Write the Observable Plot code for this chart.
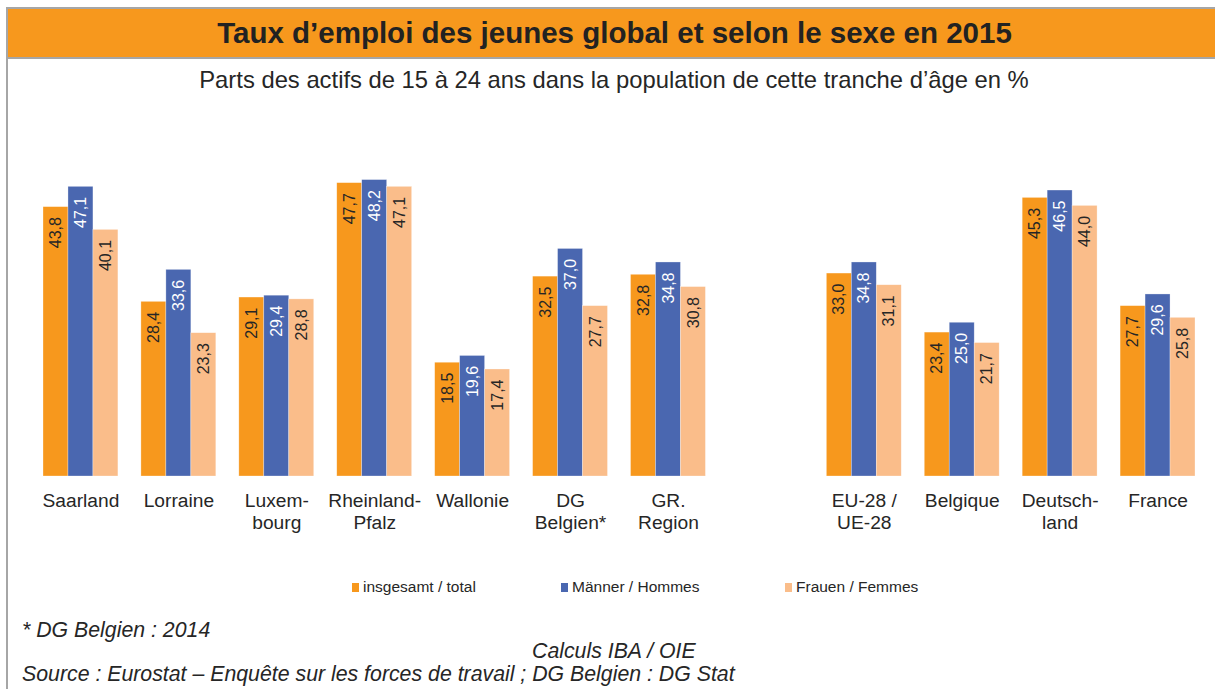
<!DOCTYPE html>
<html>
<head>
<meta charset="utf-8">
<script src="https://cdn.jsdelivr.net/npm/d3@7"></script>
<script src="https://cdn.jsdelivr.net/npm/@observablehq/plot@0.6"></script>
<style>
  html, body { margin: 0; padding: 0; background: #fff; }
  body { width: 1215px; height: 689px; position: relative; overflow: hidden; font-family: "Liberation Sans", Arial, sans-serif; color: #262626; }
  .frame-left { position: absolute; left: 6px; top: 7px; width: 2px; height: 700px; background: #a6a6a6; }
  .banner { position: absolute; left: 6px; top: 7px; width: 1215px; height: 48px; background: #f7981d; border-top: 2px solid #a6a6a6; border-bottom: 2px solid #a6a6a6; }
  .title { position: absolute; left: 0; width: 1229px; top: 18px; text-align: center; font-weight: bold; font-size: 29.5px; line-height: 29.5px; color: #222; white-space: nowrap; }
  .subtitle { position: absolute; left: 0; width: 1228px; top: 68px; text-align: center; font-size: 23.8px; line-height: 23.8px; white-space: nowrap; }
  #chart { position: absolute; left: 0; top: 100px; }
  .legend { position: absolute; top: 578px; font-size: 15.5px; line-height: 18px; white-space: nowrap; }
  .legend span.sw { display: inline-block; width: 7px; height: 9px; margin-right: 4px; vertical-align: 0px; }
  .note { position: absolute; font-style: italic; font-size: 21.3px; line-height: 21px; white-space: nowrap; }
</style>
</head>
<body>
<div class="banner"></div>
<div class="frame-left"></div>
<div class="title">Taux d’emploi des jeunes global et selon le sexe en 2015</div>
<div class="subtitle">Parts des actifs de 15 à 24 ans dans la population de cette tranche d’âge en %</div>
<div id="chart"></div>
<div id="legend"></div>
<div class="note" style="left:22px; top:620px;">* DG Belgien : 2014</div>
<div class="note" style="left:532px; top:641px;">Calculs IBA / OIE</div>
<div class="note" style="left:22px; top:664px;">Source : Eurostat – Enquête sur les forces de travail ; DG Belgien : DG Stat</div>
<script>
// ---- Data ----
const groups = ["Saarland", "Lorraine", "Luxembourg", "Rheinland-Pfalz", "Wallonie", "DG Belgien*", "GR. Region", "_gap", "EU-28 / UE-28", "Belgique", "Deutschland", "France"];
const groupLabels = ["Saarland", "Lorraine", "Luxem-\nbourg", "Rheinland-\nPfalz", "Wallonie", "DG\nBelgien*", "GR.\nRegion", "", "EU-28 /\nUE-28", "Belgique", "Deutsch-\nland", "France"];
const seriesNames = ["insgesamt / total", "Männer / Hommes", "Frauen / Femmes"];
const seriesColors = ["#f7981d", "#4a67b0", "#fabd8a"];
const totalValues = [43.8, 28.4, 29.1, 47.7, 18.5, 32.5, 32.8, null, 33.0, 23.4, 45.3, 27.7];
const menValues   = [47.1, 33.6, 29.4, 48.2, 19.6, 37.0, 34.8, null, 34.8, 25.0, 46.5, 29.6];
const womenValues = [40.1, 23.3, 28.8, 47.1, 17.4, 27.7, 30.8, null, 31.1, 21.7, 44.0, 25.8];

const seriesValues = [totalValues, menValues, womenValues];
const rows = [];
groups.forEach((g, i) => {
  seriesValues.forEach((vals, s) => {
    if (vals[i] != null) rows.push({group: g, series: seriesNames[s], value: vals[i]});
  });
});
const labelOf = new Map(groups.map((g, i) => [g, groupLabels[i]]));
const fmt = v => v.toFixed(1).replace(".", ",");

const chart = Plot.plot({
  width: 1215,
  height: 440,
  marginLeft: 43,
  marginRight: 20,
  marginTop: 68.5,
  marginBottom: 64,
  style: {fontFamily: "Liberation Sans, Arial, sans-serif", color: "#262626", background: "transparent"},
  fx: {domain: groups, paddingInner: 0.235, paddingOuter: 0, round: false, label: null},
  x: {domain: seriesNames, padding: 0, round: false, axis: null},
  y: {domain: [0, 50], axis: null},
  color: {domain: seriesNames, range: seriesColors},
  marks: [
    Plot.barY(rows, {fx: "group", x: "series", y: "value", fill: "series", stroke: "white", strokeWidth: 0.6, strokeOpacity: 0.5}),
    Plot.text(rows.filter(d => d.series !== seriesNames[1]), {
      fx: "group", x: "series", y: "value", text: d => fmt(d.value),
      rotate: -90, textAnchor: "end", lineAnchor: "middle", dy: 10,
      fontSize: 16, fill: "#262626"
    }),
    Plot.text(rows.filter(d => d.series === seriesNames[1]), {
      fx: "group", x: "series", y: "value", text: d => fmt(d.value),
      rotate: -90, textAnchor: "end", lineAnchor: "middle", dy: 10,
      fontSize: 16, fill: "white"
    }),
    Plot.axisFx({anchor: "bottom", tickSize: 0, tickPadding: 15, fontSize: 19.2, lineHeight: 1.15, fill: "#262626", tickFormat: g => labelOf.get(g), label: null})
  ]
});
document.getElementById("chart").appendChild(chart);

// ---- Legend ----
const legendX = [352, 561, 785];
const legend = document.getElementById("legend");
seriesNames.forEach((name, i) => {
  const div = document.createElement("div");
  div.className = "legend";
  div.style.left = legendX[i] + "px";
  div.innerHTML = `<span class="sw" style="background:${seriesColors[i]}"></span>${name}`;
  legend.appendChild(div);
});
</script>
</body>
</html>
